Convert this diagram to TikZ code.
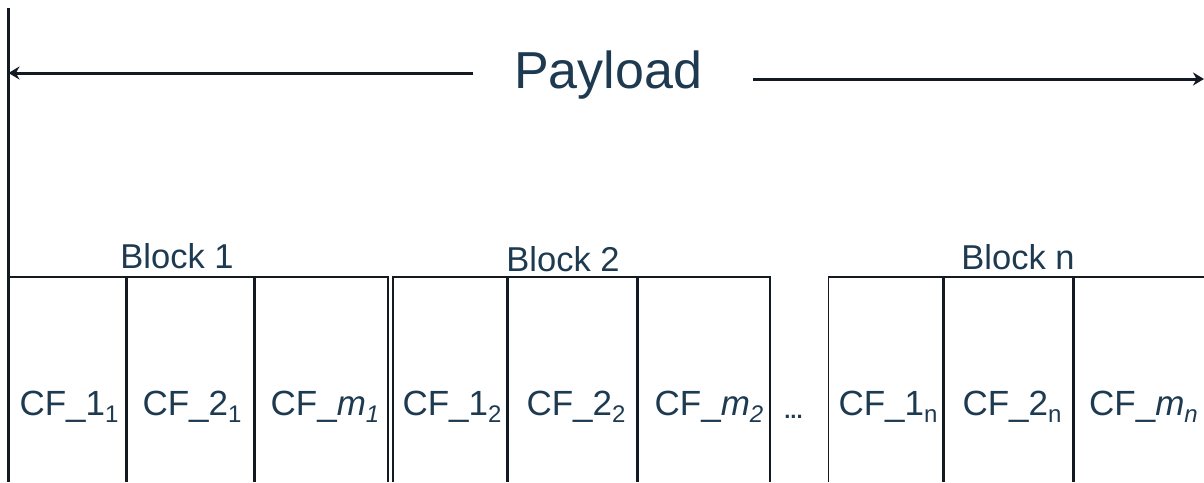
\documentclass[tikz,border=0pt]{standalone}
\usepackage{fontspec}
\setmainfont{Liberation Sans}
\usetikzlibrary{arrows.meta}
\definecolor{txt}{HTML}{1D3A50}
\definecolor{ln}{HTML}{141A22}
\newcommand{\cfsub}[1]{\raisebox{-7pt}{\fontsize{24}{24}\selectfont #1}}
\tikzset{
  thin line/.style={draw=ln, line width=1.5pt},
  thick line/.style={draw=ln, line width=3pt},
  arrowline/.style={draw=ln, line width=3pt, -{Stealth[length=11pt,width=13pt]}},
  cflabel/.style={text=txt, font=\fontsize{35}{35}\selectfont, anchor=base, inner sep=0pt},
  blocklabel/.style={text=txt, font=\fontsize{34.5}{34.5}\selectfont, anchor=base, inner sep=0pt},
  paylabel/.style={text=txt, font=\fontsize{52}{52}\selectfont, anchor=base, inner sep=0pt}
}
\begin{document}
\begin{tikzpicture}[x=1pt,y=-1pt]
\useasboundingbox (0,0) rectangle (1204,482);
% main vertical line
\coordinate (vtop) at (8.5,8);
\coordinate (vbot) at (8.5,482);
\draw[thick line] (vtop) -- (vbot);
% payload arrow
\node[paylabel] (pay) at (608,88) {Payload};
\coordinate (lstart) at (473,73);
\coordinate (lend) at (8.5,73);
\coordinate (rstart) at (753,79);
\coordinate (rend) at (1204,79);
\draw[arrowline] (lstart) -- (lend);
\draw[arrowline] (rstart) -- (rend);
% Block 1
\coordinate (b1tl) at (8.5,277);
\coordinate (b1tr) at (388,277);
\coordinate (b1br) at (388,482);
\draw[thin line] (b1tl) -- (b1tr) -- (b1br);
\coordinate (d11t) at (126,277); \coordinate (d11b) at (126,482);
\coordinate (d12t) at (254,277); \coordinate (d12b) at (254,482);
\draw[thick line] (d11t) -- (d11b);
\draw[thick line] (d12t) -- (d12b);
% Block 2
\coordinate (b2bl) at (393,482);
\coordinate (b2tl) at (393,277);
\coordinate (b2tr) at (770,277);
\coordinate (b2br) at (770,482);
\draw[thin line] (b2bl) -- (b2tl) -- (b2tr) -- (b2br);
\coordinate (d21t) at (507,277); \coordinate (d21b) at (507,482);
\coordinate (d22t) at (637,277); \coordinate (d22b) at (637,482);
\draw[thick line] (d21t) -- (d21b);
\draw[thick line] (d22t) -- (d22b);
% Block n
\coordinate (bnbl) at (828.5,482);
\coordinate (bntl) at (828.5,277);
\coordinate (bntr) at (1204,277);
\draw[thin line] (bnbl) -- (bntl) -- (bntr);
\coordinate (dn1t) at (943,277); \coordinate (dn1b) at (943,482);
\coordinate (dn2t) at (1073,277); \coordinate (dn2b) at (1073,482);
\draw[thick line] (dn1t) -- (dn1b);
\draw[thick line] (dn2t) -- (dn2b);
% block labels
\node[blocklabel] (bl1) at (177,268) {Block 1};
\node[blocklabel] (bl2) at (563,271) {Block 2};
\node[blocklabel] (bln) at (1018,269) {Block n};
% CF labels
\node[cflabel] (c11) at (69,415) {CF\_1\cfsub{1}};
\node[cflabel] (c21) at (192,415) {CF\_2\cfsub{1}};
\node[cflabel] (cm1) at (325,415) {CF\_\textit{m}\cfsub{\itshape 1}};
\node[cflabel] (c12) at (452,415) {CF\_1\cfsub{2}};
\node[cflabel] (c22) at (576,415) {CF\_2\cfsub{2}};
\node[cflabel] (cm2) at (709,415) {CF\_\textit{m}\cfsub{\itshape 2}};
\node[text=txt, font=\fontsize{22}{22}\selectfont\bfseries, anchor=base, inner sep=0pt] (dots) at (793.5,418) {...};
\node[cflabel] (c1n) at (888,415) {CF\_1\cfsub{n}};
\node[cflabel] (c2n) at (1012,415) {CF\_2\cfsub{n}};
\node[cflabel] (cmn) at (1143.5,415) {CF\_\textit{m}\cfsub{\itshape n}};
\end{tikzpicture}
\end{document}
